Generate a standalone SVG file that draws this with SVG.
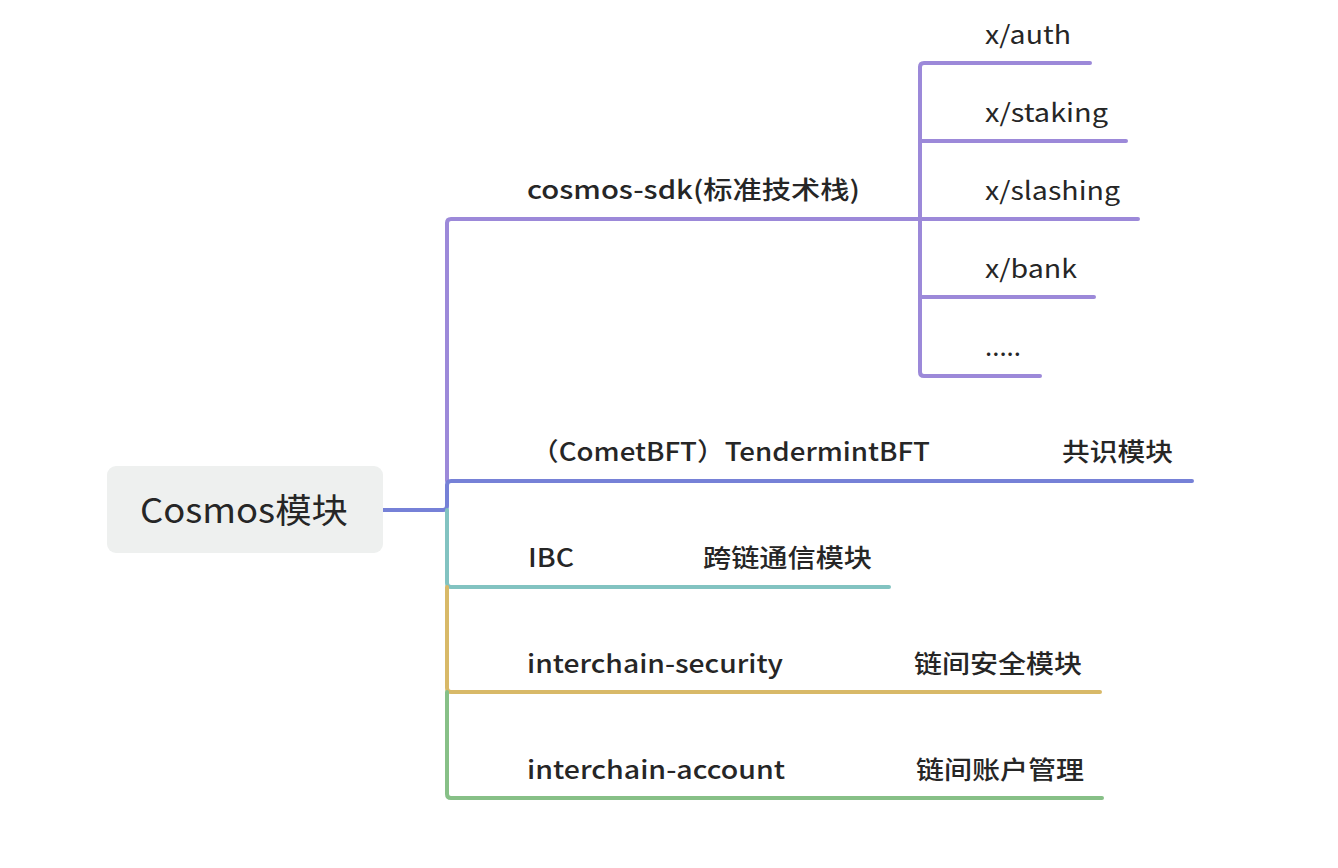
<svg xmlns="http://www.w3.org/2000/svg" width="1338" height="868" viewBox="0 0 1338 868">
<style>
.ln{fill:none;stroke-width:4;stroke-linecap:round;stroke-linejoin:round}
.p{stroke:#9c89d9}.b{stroke:#7681d7}.t{stroke:#82c3c1}.g{stroke:#d8b968}.gr{stroke:#87c087}
text{font-family:"Noto Sans CJK SC","Noto Sans",sans-serif;fill:#262626}
.l1{font-size:25px;font-weight:500}
.l2{font-size:25px;font-weight:400}
.root{font-size:34px;font-weight:400}
</style>
<rect width="1338" height="868" fill="#ffffff"/>
<g id="connectors">
<path class="ln p" d="M447 481 V223 Q447 219 451 219 H1138"/>
<path class="ln p" d="M1090 63 H924 Q920 63 920 67 V372 Q920 376 924 376 H1040"/>
<path class="ln p" d="M920 141 H1126"/>
<path class="ln p" d="M920 297 H1094"/>
<path class="ln b" d="M383 510 H443 Q447 510 447 506 V485 Q447 481 451 481 H1192"/>
<path class="ln t" d="M447 510 V583 Q447 587 451 587 H889"/>
<path class="ln g" d="M447 587 V688 Q447 692 451 692 H1100"/>
<path class="ln gr" d="M447 692 V794 Q447 798 451 798 H1102"/>
</g>
<g id="root">
<rect x="107" y="466" width="276" height="87" rx="9" fill="#eef0ef"/>
<text class="root" x="140" y="523" textLength="208" lengthAdjust="spacingAndGlyphs">Cosmos模块</text>
</g>
<g id="cosmos-sdk">
<text class="l1" x="527" y="199" textLength="333" lengthAdjust="spacingAndGlyphs">cosmos-sdk(标准技术栈)</text>
</g>
<g id="x-auth"><text class="l2" x="985" y="44" textLength="86" lengthAdjust="spacingAndGlyphs">x/auth</text></g>
<g id="x-staking"><text class="l2" x="985" y="122" textLength="123" lengthAdjust="spacingAndGlyphs">x/staking</text></g>
<g id="x-slashing"><text class="l2" x="985" y="200" textLength="135" lengthAdjust="spacingAndGlyphs">x/slashing</text></g>
<g id="x-bank"><text class="l2" x="985" y="278" textLength="92" lengthAdjust="spacingAndGlyphs">x/bank</text></g>
<g id="more"><text class="l2" x="985" y="356" textLength="36" lengthAdjust="spacingAndGlyphs">.....</text></g>
<g id="cometbft">
<text class="l1" x="531" y="461" textLength="399" lengthAdjust="spacingAndGlyphs">（CometBFT）TendermintBFT</text>
<text class="l1" x="1062" y="461" textLength="111" lengthAdjust="spacingAndGlyphs">共识模块</text>
</g>
<g id="ibc">
<text class="l1" x="528" y="567" textLength="46" lengthAdjust="spacingAndGlyphs">IBC</text>
<text class="l1" x="703" y="567" textLength="169" lengthAdjust="spacingAndGlyphs">跨链通信模块</text>
</g>
<g id="interchain-security">
<text class="l1" x="527" y="673" textLength="256" lengthAdjust="spacingAndGlyphs">interchain-security</text>
<text class="l1" x="914" y="673" textLength="168" lengthAdjust="spacingAndGlyphs">链间安全模块</text>
</g>
<g id="interchain-account">
<text class="l1" x="527" y="779" textLength="258" lengthAdjust="spacingAndGlyphs">interchain-account</text>
<text class="l1" x="916" y="779" textLength="168" lengthAdjust="spacingAndGlyphs">链间账户管理</text>
</g>
</svg>
